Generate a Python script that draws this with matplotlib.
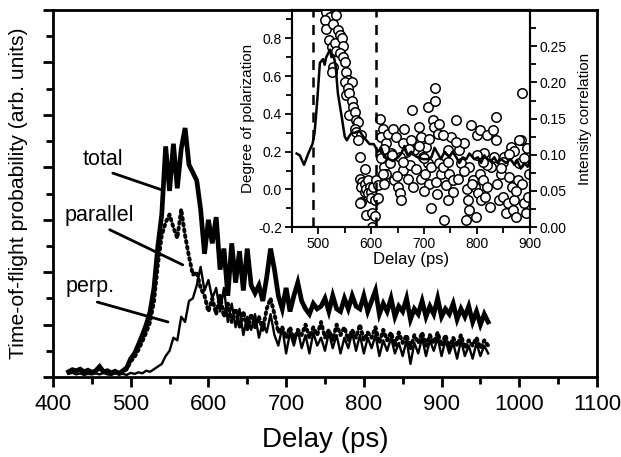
import matplotlib
matplotlib.use('Agg')
import matplotlib.pyplot as plt
import numpy as np

plt.rcParams['font.family'] = ['Liberation Sans', 'DejaVu Sans']

# main panel: time-of-flight traces (delay in ps, arb. units)
delay = np.arange(420, 961, 5)

total = [0.10, 0.14, 0.12, 0.15, 0.10, 0.13, 0.09, 0.12, 0.20, 0.10,
         0.12, 0.08, 0.11, 0.07, 0.12, 0.18, 0.35, 0.45, 0.62, 0.80,
         1.00, 1.25, 1.70, 2.50, 3.10, 4.40, 3.55, 4.45, 3.60, 4.35,
         4.75, 4.05, 3.90, 3.75, 3.20, 2.35, 3.00, 2.55, 3.05, 2.05,
         2.45, 1.55, 2.55, 1.80, 2.40, 1.65, 2.45, 1.75, 1.60, 1.75,
         1.45, 1.90, 2.45, 2.05, 1.55, 1.30, 1.70, 1.25, 1.55, 1.80,
         1.45, 1.30, 1.20, 1.40, 1.30, 1.35, 1.50, 1.25, 1.55, 1.30,
         1.25, 1.50, 1.30, 1.55, 1.35, 1.30, 1.55, 1.25, 1.45, 1.65,
         1.20, 1.40, 1.25, 1.50, 1.15, 1.35, 1.25, 1.50, 1.10, 1.30,
         1.20, 1.45, 1.15, 1.35, 1.20, 1.50, 1.15, 1.30, 1.20, 1.40,
         1.10, 1.30, 1.15, 1.35, 1.05, 1.25, 1.00, 1.20, 1.05]

parallel = [0.10, 0.12, 0.10, 0.13, 0.09, 0.12, 0.08, 0.11, 0.17, 0.09,
            0.11, 0.07, 0.10, 0.06, 0.10, 0.15, 0.30, 0.38, 0.52, 0.68,
            0.85, 1.05, 1.45, 2.15, 2.70, 2.95, 3.10, 2.85, 2.65, 3.20,
            2.70, 2.30, 1.95, 2.00, 1.70, 1.55, 1.25, 1.50, 1.20, 1.55,
            1.15, 1.40, 1.05, 1.30, 0.95, 1.25, 0.90, 1.20, 0.95, 1.15,
            0.90, 1.30, 1.50, 1.20, 0.85, 0.95, 0.75, 0.95, 0.70, 0.90,
            0.80, 1.00, 0.75, 0.95, 0.80, 1.05, 0.75, 0.90, 0.70, 1.00,
            0.80, 0.95, 0.70, 0.90, 0.75, 1.00, 0.70, 0.85, 0.75, 0.95,
            0.65, 0.90, 0.70, 0.85, 0.60, 0.85, 0.65, 0.80, 0.55, 0.80,
            0.65, 0.85, 0.60, 0.80, 0.65, 0.85, 0.60, 0.80, 0.55, 0.75,
            0.60, 0.80, 0.55, 0.70, 0.60, 0.75, 0.55, 0.70, 0.60]

perp = [0.06, 0.08, 0.05, 0.07, 0.04, 0.06, 0.05, 0.07, 0.05, 0.08,
        0.05, 0.04, 0.07, 0.05, 0.06, 0.04, 0.08, 0.06, 0.09, 0.07,
        0.12, 0.10, 0.15, 0.20, 0.25, 0.40, 0.50, 0.75, 0.70, 1.15,
        1.05, 1.45, 1.50, 1.75, 2.10, 1.65, 1.85, 1.50, 1.70, 1.25,
        1.70, 1.05, 1.40, 0.95, 1.30, 0.80, 1.15, 0.90, 1.20, 0.75,
        1.05, 0.85, 1.20, 0.80, 0.60, 0.95, 0.45, 0.85, 0.60, 0.90,
        0.55, 0.80, 0.45, 0.85, 0.60, 0.75, 0.50, 0.85, 0.55, 0.80,
        0.45, 0.75, 0.55, 0.85, 0.50, 0.80, 0.45, 0.75, 0.55, 0.80,
        0.40, 0.70, 0.50, 0.75, 0.45, 0.65, 0.40, 0.70, 0.25, 0.65,
        0.45, 0.75, 0.40, 0.70, 0.50, 0.75, 0.40, 0.70, 0.45, 0.65,
        0.35, 0.70, 0.40, 0.60, 0.35, 0.65, 0.40, 0.60, 0.45]

# inset: degree of polarization (line, left axis)
pol_delay = [459, 465, 473, 481, 489, 493, 498, 503, 509, 512, 515, 522,
             525, 529, 533, 537, 544, 550, 554, 558, 563, 569, 578, 585,
             591, 597, 605, 613, 619, 625, 634, 641, 651, 657, 663, 669,
             676, 682, 688, 698, 707, 714, 720, 726, 732, 739, 748, 754,
             761, 767, 773, 780, 786, 795, 802, 808, 814, 820, 827, 833,
             839, 846, 855, 864, 871, 877, 883, 890, 896, 899]
pol = [0.19, 0.18, 0.13, 0.19, 0.24, 0.30, 0.47, 0.67, 0.69, 0.66, 0.70,
       0.74, 0.70, 0.71, 0.65, 0.51, 0.39, 0.28, 0.26, 0.28, 0.30, 0.30,
       0.31, 0.28, 0.26, 0.24, 0.24, 0.20, 0.22, 0.17, 0.16, 0.15, 0.17,
       0.19, 0.23, 0.18, 0.20, 0.18, 0.17, 0.16, 0.16, 0.17, 0.22, 0.19,
       0.16, 0.20, 0.17, 0.20, 0.17, 0.14, 0.17, 0.16, 0.19, 0.16, 0.17,
       0.14, 0.18, 0.16, 0.15, 0.17, 0.14, 0.16, 0.14, 0.16, 0.13, 0.15,
       0.11, 0.14, 0.12, 0.14]

# inset: intensity correlation (open circles, right axis)
corr_delay = [515, 522, 512, 515, 528, 534, 537, 541, 520, 525, 531, 544,
              547, 534, 541, 547, 528, 550, 553, 525, 556, 550, 563, 556,
              553, 559, 563, 566, 559, 569, 571, 575, 569, 572, 581, 575,
              578, 578, 583, 588, 581, 588, 588, 594, 591, 597, 594, 600,
              600, 603, 610, 613, 607, 613, 580, 578, 591, 602, 608, 602,
              616, 622, 619, 629, 632, 625, 629, 622, 635, 638, 641, 647,
              644, 651, 654, 657, 660, 660, 663, 666, 669, 673, 676, 678,
              679, 682, 685, 691, 695, 695, 698, 701, 704, 707, 707, 710,
              713, 713, 717, 718, 720, 720, 723, 726, 728, 729, 732, 735,
              738, 742, 745, 745, 748, 751, 754, 761, 764, 767, 770, 776,
              780, 781, 783, 785, 786, 789, 792, 796, 798, 800, 802, 805,
              806, 808, 811, 814, 816, 819, 820, 824, 827, 830, 833, 836,
              836, 839, 842, 846, 849, 852, 855, 858, 861, 864, 866, 868,
              871, 874, 877, 880, 883, 885, 886, 890, 893, 896, 898,
              700, 745, 760, 690, 655, 640, 625, 800, 850, 870, 820, 735,
              710, 775, 845, 890, 660, 618, 625, 648, 672, 700, 725, 755,
              790, 812, 860, 875, 895, 880]
corr = [0.297, 0.291, 0.286, 0.274, 0.281, 0.293, 0.272, 0.265, 0.258,
        0.249, 0.254, 0.261, 0.251, 0.244, 0.240, 0.235, 0.221, 0.228,
        0.215, 0.215, 0.203, 0.201, 0.201, 0.192, 0.182, 0.185, 0.175,
        0.166, 0.155, 0.159, 0.148, 0.145, 0.136, 0.132, 0.127, 0.120,
        0.097, 0.067, 0.063, 0.081, 0.056, 0.060, 0.049, 0.065, 0.053,
        0.056, 0.047, 0.049, 0.040, 0.056, 0.065, 0.058, 0.037, 0.040,
        0.035, 0.033, 0.017, 0.019, 0.015, 0.000,
        0.150, 0.136, 0.125, 0.116, 0.129, 0.083, 0.074, 0.074, 0.088,
        0.102, 0.136, 0.125, 0.065, 0.056, 0.047, 0.037, 0.079, 0.116,
        0.136, 0.104, 0.067, 0.086, 0.120, 0.162, 0.056, 0.106, 0.081,
        0.139, 0.067, 0.125, 0.097, 0.074, 0.111, 0.166, 0.088, 0.060,
        0.026, 0.083, 0.148, 0.139, 0.192, 0.175, 0.063, 0.129, 0.143,
        0.088, 0.074, 0.083, 0.010, 0.058, 0.037, 0.106, 0.074, 0.125,
        0.065, 0.148, 0.067, 0.106, 0.088, 0.116, 0.010, 0.053, 0.037,
        0.023, 0.083, 0.141, 0.065, 0.056, 0.014, 0.127, 0.047, 0.134,
        0.074, 0.037, 0.065, 0.102, 0.042, 0.127, 0.056, 0.028, 0.083,
        0.134, 0.097, 0.120, 0.152, 0.060, 0.037, 0.074, 0.042, 0.097,
        0.019, 0.033, 0.069, 0.111, 0.056, 0.023, 0.037, 0.014, 0.065,
        0.088, 0.120, 0.185, 0.060, 0.033, 0.019, 0.042, 0.074,
        0.095, 0.090, 0.118, 0.112, 0.097, 0.100, 0.108, 0.100, 0.090,
        0.105, 0.086, 0.128, 0.122, 0.078, 0.082, 0.095, 0.090, 0.095,
        0.060, 0.070, 0.108, 0.050, 0.046, 0.049, 0.060, 0.090, 0.101,
        0.050, 0.110, 0.120]

gate_delays = [490, 610]

fig = plt.figure(figsize=(6.21, 4.57), dpi=100)
ax = fig.add_axes([0.0853, 0.175, 0.876, 0.803])

ax.plot(delay, total, color='black', lw=3.4, solid_joinstyle='miter')
ax.plot(delay, parallel, color='black', lw=2.8, linestyle=(0, (0.5, 1.0)),
        dash_capstyle='round')
ax.plot(delay, perp, color='black', lw=1.7)

ax.set_xlim(400, 1100)
ax.set_ylim(0, 7)
ax.set_xticks(np.arange(400, 1101, 100))
ax.set_xticks(np.arange(450, 1100, 100), minor=True)
ax.set_yticks(np.arange(0, 8, 1))
ax.set_yticks(np.arange(0.5, 7, 1), minor=True)
ax.set_yticklabels([])
ax.tick_params(which='both', direction='out', width=2)
ax.tick_params(which='major', length=7, labelsize=16, pad=5)
ax.tick_params(which='minor', length=5)
for s in ax.spines.values():
    s.set_linewidth(2)
ax.set_xlabel('Delay (ps)', fontsize=20, labelpad=9)
ax.set_ylabel('Time-of-flight probability (arb. units)', fontsize=15.2,
              labelpad=6)

# curve labels with pointer lines
labels = [('total', 464, 4.14, 477, 3.89, 540, 3.57),
          ('parallel', 460, 3.09, 473, 2.81, 567, 2.14),
          ('perp.', 448, 1.72, 457, 1.43, 548, 1.05)]
for name, tx, ty, x0, y0, x1, y1 in labels:
    ax.text(tx, ty, name, fontsize=15.5, ha='center', va='center')
    ax.annotate('', xy=(x1, y1), xytext=(x0, y0),
                arrowprops=dict(arrowstyle='-', lw=2, color='black',
                                shrinkA=0, shrinkB=0))

# inset
ins = fig.add_axes([0.470, 0.503, 0.383, 0.475])
ins.plot(pol_delay, pol, color='black', lw=1.8, zorder=3)
for g in gate_delays:
    ins.axvline(g, color='black', lw=1.8, linestyle=(0, (4, 3)))
ins.set_xlim(450, 900)
ins.set_ylim(-0.2, 0.95)
ins.set_xticks(np.arange(500, 901, 100))
ins.set_xticks(np.arange(450, 900, 100), minor=True)
ins.set_yticks(np.arange(-0.2, 0.81, 0.2))
ins.set_yticks(np.arange(-0.1, 0.95, 0.2), minor=True)
ins.yaxis.set_major_formatter(plt.FuncFormatter(lambda v, p: '%.1f' % v))
ins.tick_params(which='both', direction='out', width=1.3, labelsize=10)
ins.tick_params(which='major', length=5, pad=2)
ins.tick_params(which='minor', length=4)
ins.set_xlabel('Delay (ps)', fontsize=12, labelpad=1)
ins.set_ylabel('Degree of polarization', fontsize=11, labelpad=2)
for s in ins.spines.values():
    s.set_linewidth(1.5)

ins2 = ins.twinx()
ins2.plot(corr_delay, corr, linestyle='none', marker='o', ms=6.8,
          mfc='white', mec='black', mew=1.1, zorder=2)
ins2.set_ylim(0, 0.30)
ins2.set_yticks(np.arange(0, 0.26, 0.05))
ins2.set_yticks(np.arange(0.025, 0.30, 0.05), minor=True)
ins2.yaxis.set_major_formatter(plt.FuncFormatter(lambda v, p: '%.2f' % v))
ins2.tick_params(which='both', direction='out', width=1.3, labelsize=10)
ins2.tick_params(which='major', length=5, pad=2)
ins2.tick_params(which='minor', length=4)
ins2.set_ylabel('Intensity correlation', fontsize=11, labelpad=8)
for s in ins2.spines.values():
    s.set_linewidth(1.5)
ins.set_zorder(ins2.get_zorder() + 1)
ins.patch.set_visible(False)

fig.savefig('out.png', dpi=100)
